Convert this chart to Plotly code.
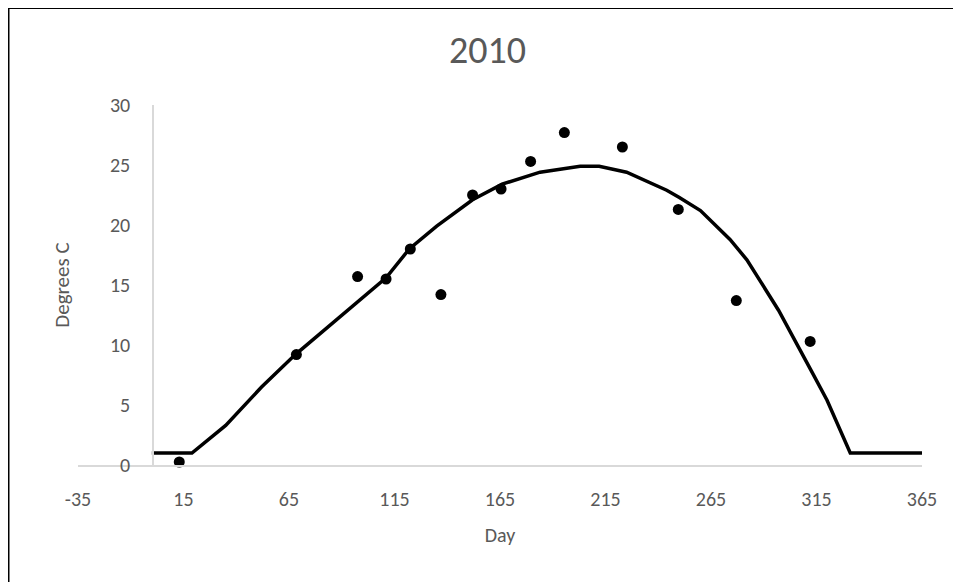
import plotly.graph_objects as go

# Observed data points (day, temperature)
obs_day = [13, 68.5, 97.5, 111, 122.5, 137, 152, 165.5, 179.5, 195.5, 223, 249.5, 277, 312]
obs_temp = [0.25, 9.2, 15.7, 15.5, 18.0, 14.2, 22.5, 23.0, 25.3, 27.7, 26.5, 21.3, 13.7, 10.3]

# Model curve (day, temperature)
model_day = [0, 19, 35, 52, 68, 83, 89, 111, 122, 135, 152, 166, 184, 203, 212, 225,
             244, 250, 260, 274, 282, 297, 313, 320, 331, 365]
model_temp = [1.0, 1.0, 3.3, 6.5, 9.2, 11.4, 12.3, 15.6, 18.0, 19.9, 22.1, 23.4, 24.4, 24.9,
              24.9, 24.4, 22.9, 22.3, 21.2, 18.8, 17.1, 12.9, 7.7, 5.4, 1.0, 1.0]

x_ticks = [-35, 15, 65, 115, 165, 215, 265, 315, 365]
y_ticks = [0, 5, 10, 15, 20, 25, 30]

FONT = "Carlito, Calibri, Lato, sans-serif"
GRAY = "#595959"
AXIS = "#d9d9d9"

fig = go.Figure()
fig.add_trace(go.Scatter(x=model_day, y=model_temp, mode="lines",
                         line=dict(color="black", width=3.5),
                         showlegend=False, hoverinfo="skip", cliponaxis=False))
fig.add_trace(go.Scatter(x=obs_day, y=obs_temp, mode="markers",
                         marker=dict(color="black", size=11),
                         showlegend=False, cliponaxis=False))

W, H = 961, 582
L, R, T, B = 70, 47, 97, 125
pw, ph = W - L - R, H - T - B

def px(xp):
    return (xp - L) / pw

def py(yp):
    return (H - B - yp) / ph

fig.update_layout(
    width=W, height=H,
    margin=dict(l=L, r=R, t=T, b=B),
    paper_bgcolor="white", plot_bgcolor="white",
    font=dict(family=FONT, color=GRAY),
    title=dict(text="2010", x=479.5 / W, xref="container", xanchor="center",
               y=1 - 42 / H, yref="container", yanchor="middle",
               font=dict(family=FONT, size=38, color=GRAY)),
    xaxis=dict(range=[-35, 365], tickvals=x_ticks, ticktext=[str(v) for v in x_ticks],
               showline=True, linecolor=AXIS, linewidth=1.5, showgrid=False, zeroline=False,
               ticks="outside", ticklen=15, tickcolor="rgba(0,0,0,0)",
               tickfont=dict(family=FONT, size=20, color=GRAY),
               title=dict(text="Day", font=dict(family=FONT, size=20, color=GRAY), standoff=18)),
    yaxis=dict(range=[0, 30], tickvals=y_ticks, anchor="free", position=px(145),
               showline=True, linecolor=AXIS, linewidth=1.5, showgrid=False, zeroline=False,
               ticks="outside", ticklen=18, tickcolor="rgba(0,0,0,0)",
               tickfont=dict(family=FONT, size=20, color=GRAY),
               title=dict(text="Degrees C", font=dict(family=FONT, size=21, color=GRAY), standoff=34)),
    shapes=[
        dict(type="line", xref="paper", yref="paper", x0=px(0.5), x1=px(0.5),
             y0=py(0), y1=py(600), line=dict(color="black", width=2)),
        dict(type="line", xref="paper", yref="paper", x0=px(0), x1=px(980),
             y0=py(0), y1=py(0), line=dict(color="black", width=2)),
    ],
)

fig.write_html("out.html")
